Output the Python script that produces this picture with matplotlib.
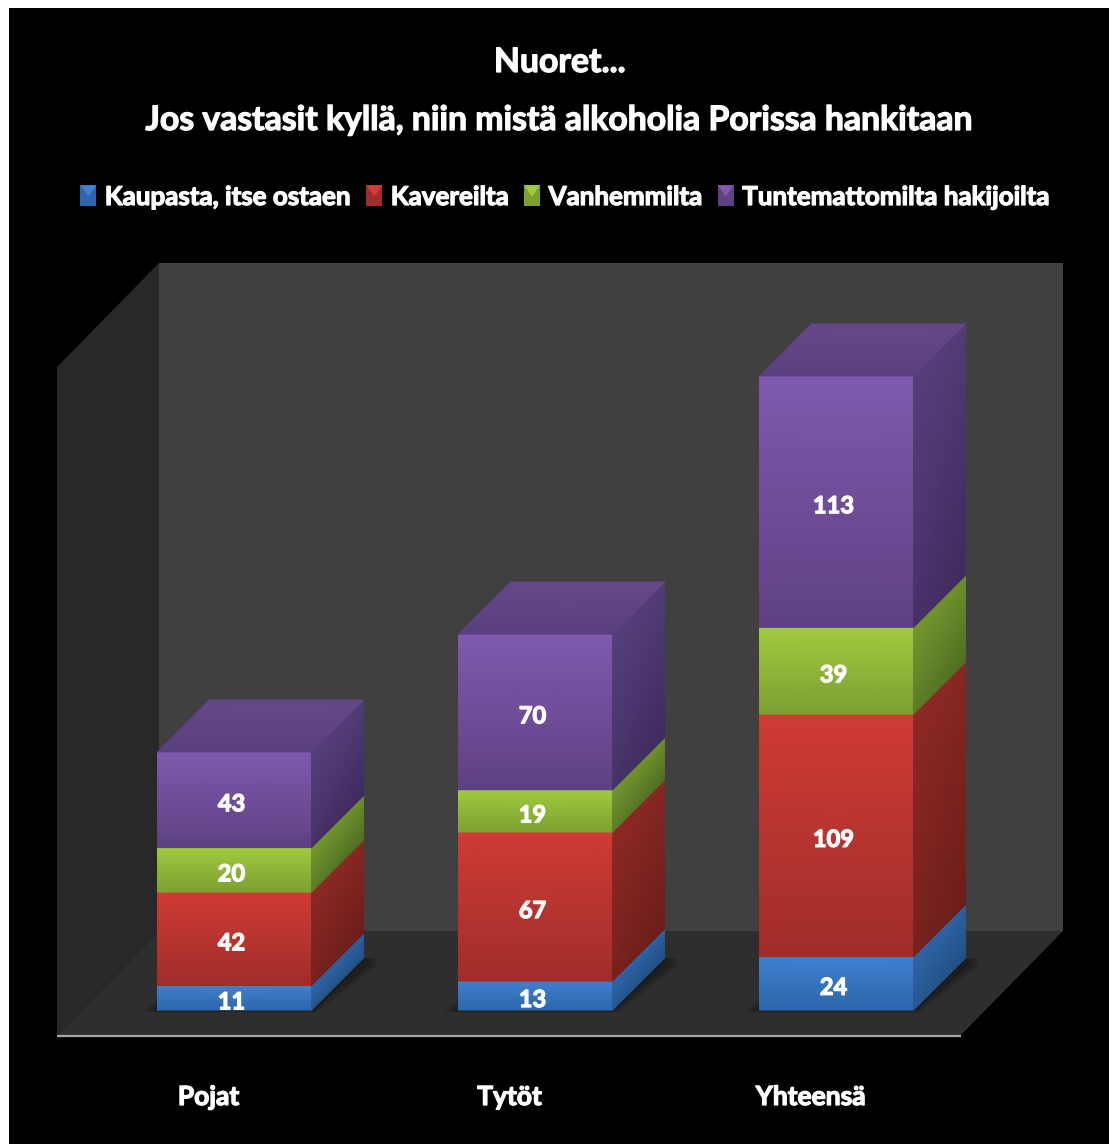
import matplotlib
matplotlib.use("Agg")
import matplotlib.pyplot as plt
import matplotlib.patheffects as pe
import numpy as np
from matplotlib.colors import LinearSegmentedColormap
from matplotlib.legend_handler import HandlerBase
from matplotlib.patches import Patch, Polygon, Rectangle

categories = ["Pojat", "Tytöt", "Yhteensä"]
series_names = ["Kaupasta, itse ostaen", "Kavereilta", "Vanhemmilta", "Tuntemattomilta hakijoilta"]
kaupasta = [11, 13, 24]
kavereilta = [42, 67, 109]
vanhemmilta = [20, 19, 39]
tuntemattomilta = [43, 70, 113]
series_values = [kaupasta, kavereilta, vanhemmilta, tuntemattomilta]

title_lines = ["Nuoret...", "Jos vastasit kyllä, niin mistä alkoholia Porissa hankitaan"]

# colours: front top, front bottom, side top, side bottom
palette = [
    ("#3f80cf", "#2d66aa", "#2f66a8", "#234f84"),
    ("#d03b35", "#9f2d2a", "#8e2925", "#6a1e1b"),
    ("#a0cb40", "#7c9f30", "#75982f", "#4f6d23"),
    ("#7f5aae", "#5f4083", "#55407c", "#3f2b5e"),
]
top_face = ("#5a3f7f", "#654889")
font = ["Lato", "DejaVu Sans"]
bold = [pe.withStroke(linewidth=0.9, foreground="white")]

W, H = 1109, 1144
fig = plt.figure(figsize=(W / 100, H / 100), dpi=100, facecolor="white")
plt.rcParams["font.family"] = font
plt.rcParams["font.weight"] = "bold"

# scene layer in pixel coordinates
bg = fig.add_axes([0, 0, 1, 1])
bg.set_xlim(0, W)
bg.set_ylim(H, 0)
bg.axis("off")
bg.add_patch(Rectangle((9, 8), W, H, color="black", lw=0))
bg.add_patch(Polygon([(159, 263), (1063, 263), (1063, 931), (159, 931)], color="#404040", lw=0))
bg.add_patch(Polygon([(57, 367), (159, 263), (159, 931), (57, 1035)], color="#282828", lw=0))
bg.add_patch(Polygon([(57, 1035), (159, 931), (1063, 931), (961, 1035)], color="#2e2e2e", lw=0))
bg.plot([57, 961], [1036, 1036], color="#a8a8a8", lw=1.6, solid_capstyle="butt")
bg.text(560, 62, title_lines[0], color="white", fontsize=24.3, ha="center", va="center",
        fontweight="bold", path_effects=bold)
bg.text(560, 120, title_lines[1], color="white", fontsize=24.3, ha="center", va="center",
        fontweight="bold", path_effects=bold)

# data layer
L, R, T, B = 57, 1063, 263, 1035
px_x, px_y = 301.0, 2.2246
x_center0, y_zero = 234.5, 1010
ax = fig.add_axes([L / W, 1 - B / H, (R - L) / W, (B - T) / H])
ax.patch.set_alpha(0)
ax.axis("off")
ax.set_xlim((L - x_center0) / px_x, (R - x_center0) / px_x)
ax.set_ylim((y_zero - B) / px_y, (y_zero - T) / px_y)
bar_w = 154 / px_x
dx, dy = 52 / px_x, 52 / px_y


def quad(bl, br, tr, tl, c_low, c_high, vals=(0, 0, 1, 1), z=3):
    cmap = LinearSegmentedColormap.from_list("g", [c_low, c_high])
    X = np.array([[bl[0], br[0]], [tl[0], tr[0]]])
    Y = np.array([[bl[1], br[1]], [tl[1], tr[1]]])
    C = np.array([[vals[0], vals[1]], [vals[3], vals[2]]], dtype=float)
    ax.pcolormesh(X, Y, C, shading="gouraud", cmap=cmap, vmin=0, vmax=1, zorder=z, clip_on=False)


xpos = np.arange(len(categories))

# soft contact shadow under each column
for i in xpos:
    x0, x1 = i - bar_w / 2, i + bar_w / 2
    for k in range(7):
        gx, gy = (k + 1) * 2.0 / px_x, (k + 1) * 0.4 / px_y
        ax.add_patch(Polygon(
            [(x0 - gx, -gy), (x1 + gx * 0.4, -gy), (x1 + dx + gx, dy * 0.85), (x1 + dx + gx, dy),
             (x0 + dx, dy), (x0 - gx, 0)],
            color="black", alpha=0.05, lw=0, zorder=2, clip_on=False))

bottom = np.zeros(len(categories))
for s, vals in enumerate(series_values):
    vals = np.array(vals, dtype=float)
    ft, fb, st, sb = palette[s]
    bars = ax.bar(xpos, vals, bar_w, bottom=bottom, color=fb, lw=0, zorder=3, clip_on=False)
    for rect, v, b in zip(bars, vals, bottom):
        x0, x1 = rect.get_x(), rect.get_x() + rect.get_width()
        y0, y1 = rect.get_y(), rect.get_y() + rect.get_height()
        quad((x0, y0), (x1, y0), (x1, y1), (x0, y1), fb, ft)
        quad((x1, y0), (x1 + dx, y0 + dy), (x1 + dx, y1 + dy), (x1, y1), sb, st, vals=(0.35, 0.0, 0.8, 1.0))
        ax.text((x0 + x1) / 2 - 3 / px_x, (y0 + y1) / 2 - 4 / px_y, f"{int(v)}", color="white",
                fontsize=17, ha="center", va="center", fontweight="bold", zorder=6,
                path_effects=bold)
    bottom += vals

for i, total in zip(xpos, bottom):
    x0, x1 = i - bar_w / 2, i + bar_w / 2
    quad((x0, total), (x1, total), (x1 + dx, total + dy), (x0 + dx, total + dy), top_face[0], top_face[1])

for i, c in zip(xpos, categories):
    ax.annotate(c, xy=(i, (y_zero - 1097) / px_y), xytext=(-26 * 0.72, 0), textcoords="offset points",
                color="white", fontsize=19, ha="center", va="center", fontweight="bold",
                annotation_clip=False, path_effects=bold)


class PillowHandler(HandlerBase):
    def create_artists(self, legend, orig, xd, yd, w, h, fs, trans):
        base = Rectangle((-xd, -yd - 2), w, h + 4, color=orig.get_facecolor(), lw=0, transform=trans)
        tri = Polygon([(-xd, -yd + h + 2), (-xd + w, -yd + h + 2), (-xd + w / 2, -yd + h * 0.45)],
                      color=orig.get_edgecolor(), lw=0, transform=trans)
        return [base, tri]


handles = [Patch(facecolor=p[1], edgecolor=p[0]) for p in palette]
leg = bg.legend(handles, series_names, handler_map={Patch: PillowHandler()},
                loc="center", bbox_to_anchor=(565.5 / W, 1 - 197 / H), bbox_transform=fig.transFigure,
                ncol=4, frameon=False, handlelength=0.62, handleheight=0.55,
                handletextpad=0.32, columnspacing=0.58, borderpad=0, labelcolor="white",
                prop={"family": font, "weight": "bold", "size": 18.7})
for t in leg.get_texts():
    t.set_path_effects(bold)

fig.savefig("out.png", dpi=100, facecolor="white")
